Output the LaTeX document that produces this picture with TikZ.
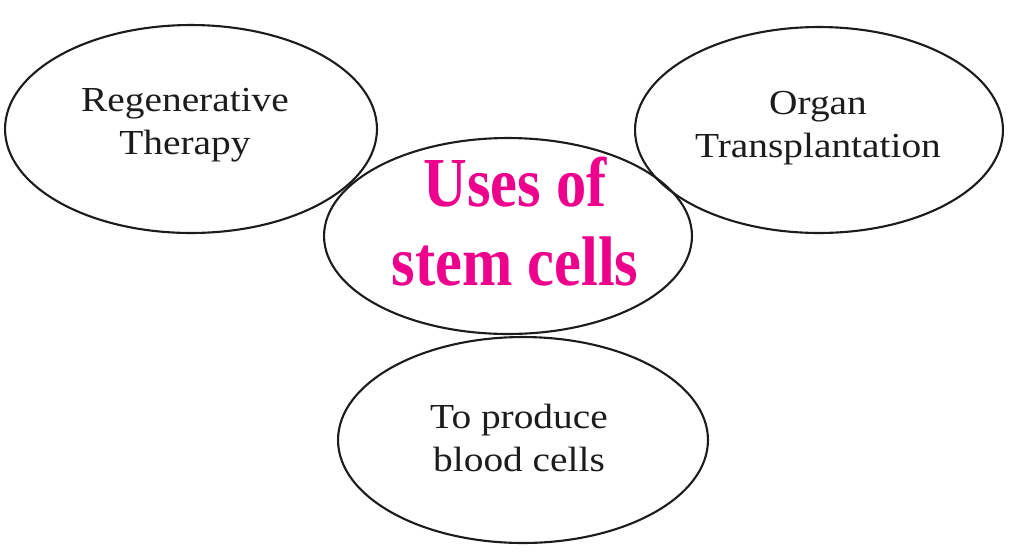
\documentclass[tikz,border=0pt]{standalone}
\usepackage{fontspec}
\setmainfont{Liberation Serif}
\newfontfamily\labelfont[FakeStretch=1.12]{Liberation Serif}
\newfontfamily\titlefont[FakeStretch=0.86]{Liberation Serif}
\usetikzlibrary{shapes.geometric}
\definecolor{usemagenta}{RGB}{236,0,140}
\definecolor{inkgrey}{RGB}{30,27,28}
\tikzset{
  blob/.style={draw=inkgrey, ellipse, line width=1.2pt, inner sep=0pt},
  usetext/.style={align=center, inner sep=0pt, text=inkgrey,
    font=\labelfont\fontsize{20}{24.5}\selectfont},
  coretext/.style={align=center, inner sep=0pt, text=usemagenta,
    font=\titlefont\bfseries\fontsize{40}{44.95}\selectfont},
}
\begin{document}
\begin{tikzpicture}[x=0.02cm,y=-0.02cm]
    \useasboundingbox (0,0) rectangle (1017,552);
    % the four ellipses
    \node[blob, minimum width=7.44cm, minimum height=4.16cm] (regen) at (191,129) {};
    \node[blob, minimum width=7.36cm, minimum height=4.12cm] (organ) at (819,130) {};
    \node[blob, minimum width=7.36cm, minimum height=3.92cm] (core) at (508,236) {};
    \node[blob, minimum width=7.40cm, minimum height=4.12cm] (blood) at (523,440) {};
    % texts
    \node[usetext] (regentext) at (185,125) {Regenerative\\Therapy};
    \node[usetext] (organtext) at (818,128.2) {Organ\\Transplantation};
    \node[usetext, font=\labelfont\fontsize{20}{25}\selectfont] (bloodtext) at (519,438) {To produce\\blood cells};
    \node[coretext] (coretext) at (515,222) {Uses of\\stem cells};
\end{tikzpicture}
\end{document}
